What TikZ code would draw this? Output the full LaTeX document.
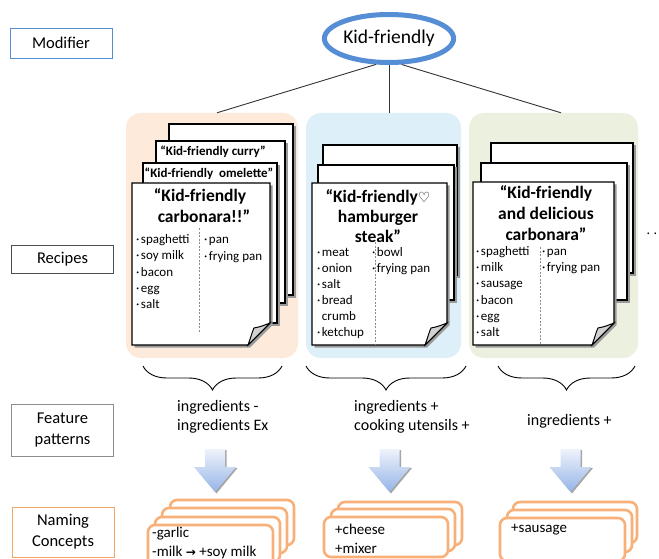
\documentclass[tikz,border=0pt]{standalone}
\usepackage{fontspec}
\setmainfont{Carlito}
\newfontfamily\symfont{DejaVu Sans}
\usetikzlibrary{shapes.geometric,decorations.pathreplacing,calc}
\definecolor{ellblue}{RGB}{85,142,213}
\definecolor{orgpanel}{RGB}{253,234,218}
\definecolor{bluepanel}{RGB}{221,240,249}
\definecolor{greenpanel}{RGB}{235,241,222}
\definecolor{namorange}{RGB}{248,176,120}
\definecolor{lblorange}{RGB}{245,165,100}
\definecolor{arrtop}{RGB}{238,242,251}
\definecolor{arrbot}{RGB}{150,180,232}
\newcommand\bul{·\kern1.5pt}
\newcommand\backpage[4]{%
  \fill[black!40] (#1+2.5,#2+2.5) rectangle (#3+2.5,#4+2.5);
  \filldraw[pagest] (#1,#2) rectangle (#3,#4);}
\newcommand\frontpage[4]{%
  \fill[black!40] (#1+2.5,#2+2.5) -- (#3+2.5,#2+2.5) -- (#3+2.5,#4-20) -- (#3-20,#4+2.5) -- (#1+2.5,#4+2.5) -- cycle;
  \filldraw[pagest] (#1,#2) -- (#3,#2) -- (#3,#4-22) -- (#3-22,#4) -- (#1,#4) -- cycle;
  \filldraw[flapst] (#3-22,#4) .. controls (#3-19,#4-8) and (#3-18,#4-13) .. (#3-16,#4-17) .. controls (#3-10,#4-18) and (#3-5,#4-20) .. (#3,#4-22) -- cycle;}
\newcommand\blockarr[1]{%
  \fill[black!35] ({#1-10+1.5},450) -- ({#1+10+1.5},450) -- ({#1+10+1.5},468) -- ({#1+21+1.5},468) -- ({#1+1.5},493.5) -- ({#1-21+1.5},468) -- ({#1-10+1.5},468) -- cycle;
  \shade[top color=arrtop, bottom color=arrbot] ({#1-10},449) -- ({#1+10},449) -- ({#1+10},467) -- ({#1+21},467) -- (#1,492) -- ({#1-21},467) -- ({#1-10},467) -- cycle;}
\newcommand\inglist[5]{%
  \foreach \t [count=\i] in {#5} \node[ing] (#1\i) at ({#2},{#3+(\i-1)*#4}) {\t};}
\begin{document}
\begin{tikzpicture}[x=1pt,y=-1pt,
  lbl/.style={draw, line width=0.8, minimum width=102, inner sep=0, align=center,
    font=\fontsize{16.5}{21}\selectfont},
  panel/.style={rounded corners=15, inner sep=0},
  pagest/.style={draw=black, line width=1.3, fill=white},
  flapst/.style={draw=black, line width=1, fill=black!18},
  conn/.style={draw=black!80, line width=0.9},
  ing/.style={anchor=base west, inner sep=0, font=\fontsize{13}{15}\selectfont},
  ttl/.style={inner sep=0, align=center, font=\bfseries\fontsize{17.5}{21}\selectfont},
  sttl/.style={inner sep=0, font=\bfseries\fontsize{13}{15}\selectfont},
  dsh/.style={draw=black!45, line width=0.8, dash pattern=on 2pt off 1.5pt},
  brc/.style={decorate, decoration={brace, amplitude=24}, draw=black, line width=0.9},
  feat/.style={anchor=west, inner sep=0, align=left, font=\fontsize{16}{19}\selectfont},
  nbox/.style={draw=namorange, line width=2.6, fill=white, rounded corners=7},
  ntxt/.style={anchor=west, inner sep=0, align=left, font=\fontsize{15}{19}\selectfont}]
\clip (0,0) rectangle (659,559);
\fill[white] (0,0) rectangle (659,559);

% left labels
\node[lbl, draw=ellblue, minimum height=30] (lmod) at (61,43) {Modifier};
\node[lbl, draw=black!70, minimum height=28] (lrec) at (62.5,259) {Recipes};
\node[lbl, draw=black!45, minimum height=52] (lfeat) at (62.5,430) {Feature\\patterns};
\node[lbl, draw=lblorange, minimum height=50] (lname) at (63,532) {Naming\\Concepts};

% panels
\node[panel, fill=orgpanel, minimum width=172, minimum height=245] (pan1) at (212,235.5) {};
\node[panel, fill=bluepanel, minimum width=155, minimum height=245] (pan2) at (383.5,235.5) {};
\node[panel, fill=greenpanel, minimum width=169, minimum height=245] (pan3) at (553.5,235.5) {};

% modifier ellipse
\node[ellipse, draw=ellblue, line width=5, fill=white, minimum width=129, minimum height=48,
  inner sep=0, font=\fontsize{19.5}{22}\selectfont] (mod) at (389,38.5) {Kid-friendly};
\draw[conn] (mod.243) -- ($(pan1.north)+(5,0)$);
\draw[conn] (mod.south) -- (mod.south |- pan2.north);
\draw[conn] (mod.296) -- ($(pan3.north)+(7.5,0)$);

% orange pages
\backpage{169}{124}{293}{295}
\backpage{156}{141}{285}{303}
\backpage{143}{163}{277}{323}
\frontpage{132}{183}{270}{345}
\node[sttl] (t13) at (213,152) {“Kid-friendly curry”};
\node[sttl] (t12) at (209,174) {“Kid-friendly\ \ omelette”};
\node[ttl] (t11) at (200,206) {“Kid-friendly\\ \ \ carbonara!!”};
\draw[dsh] (199,228) -- (199,333);
\inglist{a}{136}{243.5}{16.3}{\bul spaghetti,\bul soy milk,\bul bacon,\bul egg,\bul salt}
\inglist{b}{204}{243.5}{16.5}{\bul pan,\bul frying pan}

% blue pages
\backpage{323}{145}{457}{275}
\backpage{318}{165}{454}{300}
\frontpage{312}{183}{447}{345}
\node[ttl, font=\bfseries\fontsize{17.5}{20}\selectfont] (t21) at (378,216) {“Kid-friendly{\symfont\fontsize{14}{14}\selectfont ♡}\\hamburger\\steak”};
\draw[dsh] (375,242) -- (375,345);
\inglist{c}{317}{256.5}{16}{\bul meat,\bul onion,\bul salt,\bul bread,\phantom{\bul}crumb,\bul ketchup}
\inglist{d}{372}{256.5}{16}{\bul bowl,\bul frying pan}

% green pages
\backpage{491}{143}{633}{273}
\backpage{481}{163}{627}{300}
\frontpage{473}{182}{614}{345}
\node[ttl] (t31) at (546,213) {“Kid-friendly\\and delicious\\carbonara”};
\draw[dsh] (540,247) -- (540,345);
\inglist{e}{476}{255.5}{16.2}{\bul spaghetti,\bul milk,\bul sausage,\bul bacon,\bul egg,\bul salt}
\inglist{f}{542}{255.5}{16.2}{\bul pan,\bul frying pan}

\node[anchor=base west, inner sep=0, font=\fontsize{14}{14}\selectfont] (more) at (646.5,234.5) {.\kern3.5pt.};

% braces
\draw[brc] (282,366) -- (143,366);
\draw[brc] (466,366) -- (306,366);
\draw[brc] (635,366) -- (498,366);

% feature patterns
\node[feat] (f1) at (177,416.5) {ingredients -\\ingredients Ex};
\node[feat] (f2) at (354,416.5) {ingredients +\\cooking utensils +};
\node[feat] (f3) at (527,421) {ingredients +};

% arrows
\blockarr{215}
\blockarr{389.5}
\blockarr{570.5}

% naming concept boxes
\filldraw[nbox] (170,500) rectangle (294,545);
\filldraw[nbox] (162,508) rectangle (287,553);
\filldraw[nbox] (155,517) rectangle (280,562);
\filldraw[nbox] (148,525) rectangle (273,570);
\node[ntxt] (n1) at (152,542.5) {-garlic\\-milk {\symfont\bfseries\fontsize{12}{12}\selectfont →} +soy milk};

\filldraw[nbox] (338,502) rectangle (462,545);
\filldraw[nbox] (331,509) rectangle (455,551);
\filldraw[nbox] (324,517) rectangle (448,557);
\node[ntxt] (n2) at (335,538.5) {+cheese\\+mixer};

\filldraw[nbox] (513,502) rectangle (637,543);
\filldraw[nbox] (507,510) rectangle (632,552);
\filldraw[nbox] (500,518) rectangle (625,561);
\node[ntxt] (n3) at (511,530) {+sausage};
\end{tikzpicture}
\end{document}
